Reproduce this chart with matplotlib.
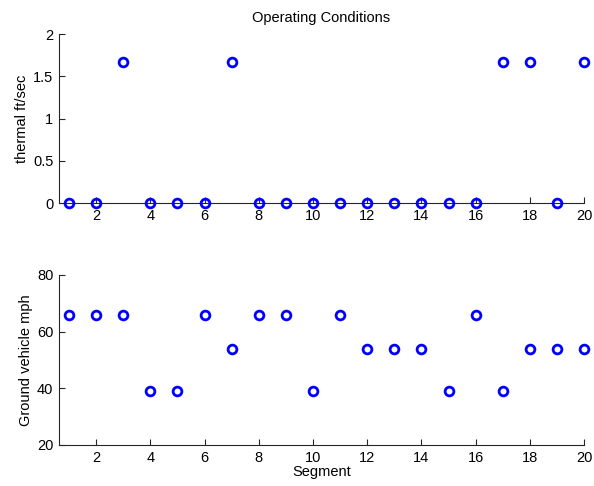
import matplotlib
matplotlib.use("Agg")
import matplotlib.pyplot as plt
import numpy as np

plt.rcParams['font.family'] = ['Liberation Sans', 'DejaVu Sans']

segments = np.arange(1, 21)
thermal = [0, 0, 5/3, 0, 0, 0, 5/3, 0, 0, 0, 0, 0, 0, 0, 0, 0, 5/3, 5/3, 0, 5/3]
speed = [66, 66, 66, 39, 39, 66, 54, 66, 66, 39, 66, 54, 54, 54, 39, 66, 39, 54, 54, 54]

fig = plt.figure(figsize=(5.94, 4.86), dpi=100)
ax1 = fig.add_axes([0.0993, 0.5823, 0.884, 0.3477])
ax2 = fig.add_axes([0.0993, 0.0844, 0.884, 0.350])


def style(ax):
    for s in ('top', 'right'):
        ax.spines[s].set_visible(False)
    for s in ('left', 'bottom'):
        ax.spines[s].set_color('#262626')
        ax.spines[s].set_linewidth(0.8)
    ax.tick_params(direction='in', length=4, width=0.8, colors='#262626',
                   labelsize=10.5, labelcolor='black', pad=4)
    ax.set_xlim(0.63, 20)
    ax.set_xticks(range(2, 21, 2))


ax1.plot(segments, thermal, 'o', mfc='none', mec='blue', ms=6.3, mew=2, clip_on=False, zorder=3)
style(ax1)
ax1.set_ylim(0, 2)
ax1.set_yticks([0, 0.5, 1, 1.5, 2])
ax1.set_yticklabels(['0', '0.5', '1', '1.5', '2'])
ax1.set_ylabel('thermal ft/sec', fontsize=10.5, labelpad=3)
ax1.set_title('Operating Conditions', fontsize=10.5, pad=9)

ax2.plot(segments, speed, 'o', mfc='none', mec='blue', ms=6.3, mew=2, clip_on=False, zorder=3)
style(ax2)
ax2.set_ylim(20, 80)
ax2.set_yticks([20, 40, 60, 80])
ax2.set_ylabel('Ground vehicle mph', fontsize=10.5, labelpad=3)
ax2.set_xlabel('Segment', fontsize=10.5, labelpad=0)

fig.savefig('out.png', dpi=100)
